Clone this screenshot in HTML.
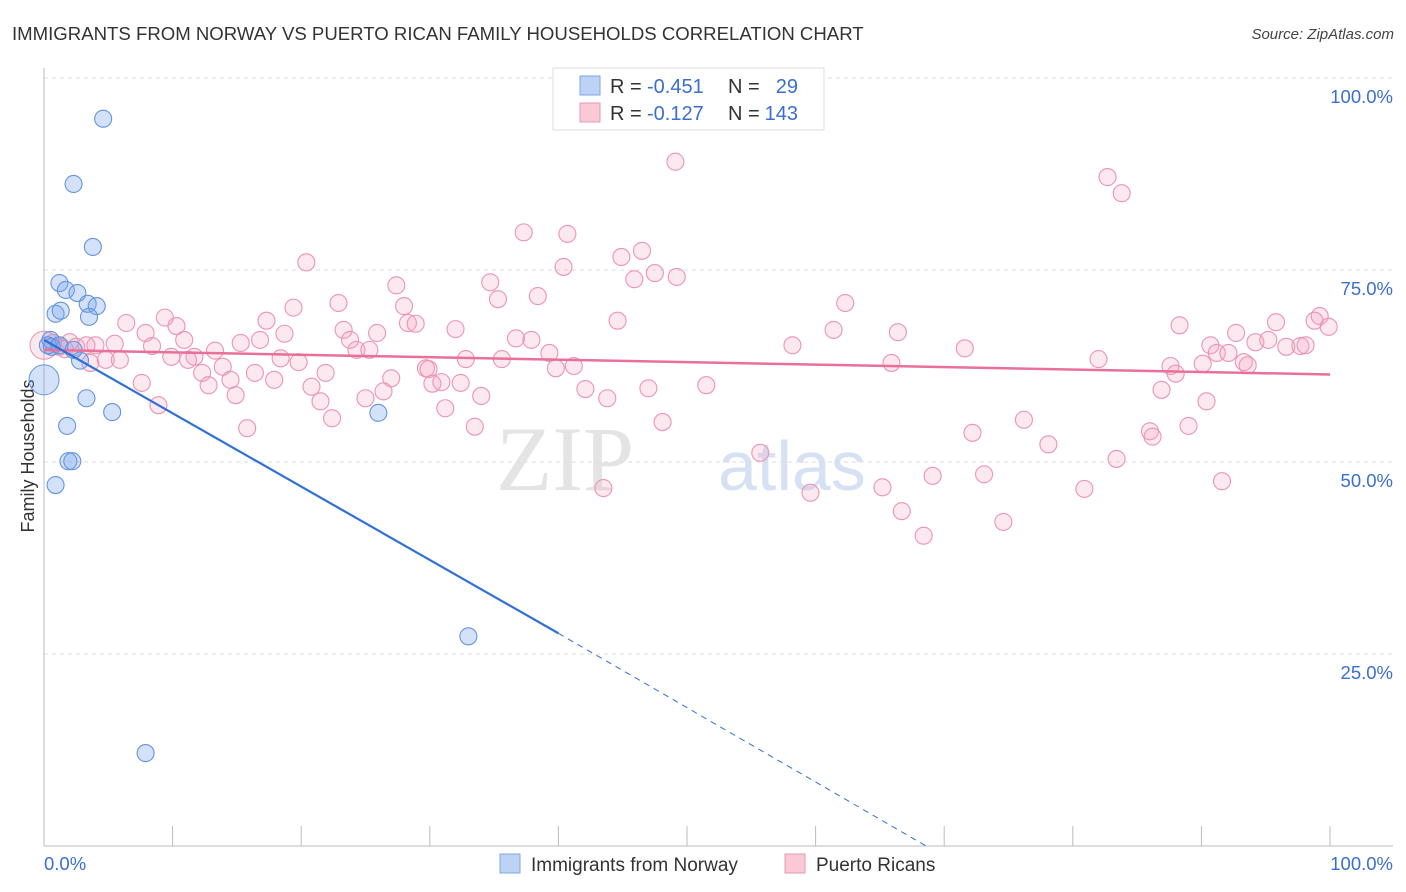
<!DOCTYPE html>
<html><head><meta charset="utf-8">
<style>
body{margin:0;background:#fff;font-family:"Liberation Sans",sans-serif;}
#wrap{position:relative;width:1406px;height:892px;overflow:hidden;}
</style></head>
<body><div id="wrap">
<svg id="chart" width="1406" height="892" font-family="Liberation Sans, sans-serif">
<text x="12" y="40" font-size="18.6" fill="#333">IMMIGRANTS FROM NORWAY VS PUERTO RICAN FAMILY HOUSEHOLDS CORRELATION CHART</text>
<text x="1394" y="39" font-size="15" fill="#444" text-anchor="end" font-style="italic">Source: ZipAtlas.com</text>
<text x="34" y="456" font-size="18" fill="#333" text-anchor="middle" transform="rotate(-90 34 456)">Family Households</text>
<text x="634" y="490" font-size="92" fill="#e4e4e4" font-family="Liberation Serif, serif" text-anchor="end">ZIP</text>
<text x="718" y="490" font-size="70" fill="#d6e2f3">atlas</text>
<g id="grid"></g><g id="axes"></g><g id="pts"></g><g id="trends"></g>
<g>
<rect x="553" y="68" width="271" height="62" fill="#fff" stroke="#ddd"/>
<rect x="580" y="76" width="20" height="19" fill="#bcd3f5" stroke="#7fa7e3"/>
<rect x="580" y="103" width="20" height="19" fill="#f9c9d6" stroke="#e897b0"/>
<text x="610" y="93" font-size="20" fill="#333">R =</text>
<text x="647" y="93" font-size="20" fill="#3a6fd0">-0.451</text>
<text x="728" y="93" font-size="20" fill="#333">N =</text>
<text x="798" y="93" font-size="20" fill="#3a6fd0" text-anchor="end">29</text>
<text x="610" y="120" font-size="20" fill="#333">R =</text>
<text x="647" y="120" font-size="20" fill="#3a6fd0">-0.127</text>
<text x="728" y="120" font-size="20" fill="#333">N =</text>
<text x="798" y="120" font-size="20" fill="#3a6fd0" text-anchor="end">143</text>
</g>
<g>
<rect x="500" y="854" width="20" height="19" fill="#bcd3f5" stroke="#7fa7e3"/>
<text x="531" y="871" font-size="19" fill="#333">Immigrants from Norway</text>
<rect x="785" y="854" width="20" height="19" fill="#f9c9d6" stroke="#e897b0"/>
<text x="816" y="871" font-size="19" fill="#333">Puerto Ricans</text>
</g>
</svg></div>
<script>
const yTicks=[25,50,75,100];
const yTickLabels=["25.0%","50.0%","75.0%","100.0%"];
const xTicks=[0,10,20,30,40,50,60,70,80,90,100];
const blueX=[4.6,2.3,3.8,1.2,1.7,2.6,3.4,4.1,3.5,0.9,1.3,0.5,0.6,2.8,3.3,5.3,1.8,1.9,2.2,0.9,26.0,33.0,7.9,0.3,1.2,2.3];
const blueY=[94.7,86.2,78.0,73.3,72.4,72.0,70.6,70.3,68.9,69.3,69.7,65.9,65.0,63.2,58.3,56.5,54.7,50.1,50.1,47.0,56.4,27.3,12.1,65.2,65.2,64.6];
const pinkX=[49.1,82.7,83.8,37.3,40.7,46.5,44.9,20.4,40.4,47.5,49.2,45.9,34.7,27.4,38.4,35.3,22.9,62.3,19.4,28.0,9.4,6.4,17.3,44.6,28.3,28.9,88.3,99.2,98.8,99.9,95.8,10.3,32.0,23.3,61.4,66.4,92.7,7.9,18.7,25.9,16.8,10.9,36.7,37.9,23.8,15.3,8.4,5.5,4.0,3.3,58.2,90.7,94.2,95.2,96.6,97.7,98.1,24.3,25.3,71.6,13.3,39.3,91.2,92.1,9.9,11.7,11.2,18.4,32.8,35.6,82.0,4.8,5.9,19.8,65.9,13.9,39.8,41.2,87.6,90.1,93.3,93.6,29.7,29.9,12.3,16.4,21.9,88.0,14.5,17.9,27.0,7.6,12.8,30.2,30.9,32.4,20.8,47.0,51.5,42.1,26.4,86.9,14.9,34.0,21.5,43.8,25.0,90.4,8.9,31.2,22.4,48.1,76.2,33.5,15.8,89.0,72.2,86.0,86.2,78.1,55.7,83.4,69.1,73.1,91.6,65.2,43.5,80.9,59.6,66.7,74.6,68.4,0.7,1.2,2.0,1.6,2.5,3.6];
const pinkY=[89.1,87.1,85.0,79.9,79.7,77.5,76.7,76.0,75.4,74.6,74.1,73.8,73.4,73.0,71.6,71.2,70.7,70.7,70.1,70.3,68.8,68.1,68.4,68.4,68.1,68.0,67.8,69.0,68.4,67.6,68.2,67.7,67.3,67.2,67.2,66.9,66.8,66.8,66.7,66.8,65.9,65.9,66.1,65.9,65.9,65.5,65.1,65.4,65.2,65.2,65.2,65.2,65.6,65.9,65.0,65.1,65.2,64.6,64.6,64.8,64.5,64.2,64.2,64.2,63.7,63.7,63.3,63.5,63.4,63.4,63.4,63.3,63.3,63.0,62.9,62.4,62.2,62.5,62.5,62.8,63.0,62.6,62.2,62.1,61.6,61.6,61.6,61.5,60.7,60.7,60.9,60.3,60.0,60.2,60.4,60.3,59.8,59.6,60.0,59.5,59.2,59.4,58.7,58.6,57.9,58.3,58.3,57.9,57.4,57.0,55.7,55.2,55.5,54.6,54.4,54.7,53.8,54.0,53.3,52.3,51.2,50.4,48.2,48.4,47.5,46.7,46.6,46.5,46.0,43.6,42.2,40.4,65.5,65.0,65.6,64.7,65.0,62.9];
const blueTrendX=[0,40,68.6];
const blueTrendY=[65.9,27.7,0];
const pinkTrendX=[0,100];
const pinkTrendY=[64.6,61.4];

const X0=44,X1=1330,Y0=846,Y100=78;
const sx=v=>X0+(X1-X0)*v/100;
const sy=v=>Y0-(Y0-Y100)*v/100;
const NS="http://www.w3.org/2000/svg";
function mk(tag,attrs,parent){const e=document.createElementNS(NS,tag);for(const k in attrs)e.setAttribute(k,attrs[k]);document.getElementById(parent).appendChild(e);return e;}

yTicks.forEach((t,i)=>{
  const l=mk('line',{x1:X0,x2:1393,y1:sy(t),y2:sy(t),stroke:'#dcdcdc','stroke-dasharray':'4,4'},'grid');
  
  
  const tx=mk('text',{x:1393,y:sy(t)+25,'font-size':18.5,fill:'#3a6fd0','text-anchor':'end'},'grid');
  tx.textContent=yTickLabels[i];
  
  
});
const ax=mk('line',{x1:X0,x2:X0,y1:68,y2:Y0,stroke:'#bbb'},'axes');


const bx=mk('line',{x1:X0,x2:1393,y1:Y0,y2:Y0,stroke:'#bbb'},'axes');


xTicks.forEach(t=>{
  const l=mk('line',{x1:sx(t),x2:sx(t),y1:Y0,y2:826,stroke:'#bbb'},'axes');
  
  
});
const xl=mk('text',{x:44,y:870,'font-size':18.5,fill:'#3a6fd0'},'axes');xl.textContent='0.0%';


const xr=mk('text',{x:1393,y:870,'font-size':18.5,fill:'#3a6fd0','text-anchor':'end'},'axes');xr.textContent='100.0%';



pinkX.forEach((x,i)=>{
  const c=mk('circle',{cx:sx(x),cy:sy(pinkY[i]),r:8.5,fill:'rgba(244,165,190,0.25)',stroke:'#ec94b1','stroke-width':1.1},'pts');
  
  
});
const bp=mk('circle',{cx:sx(0),cy:sy(65.2),r:14,fill:'rgba(244,165,190,0.25)',stroke:'#ec94b1'},'pts');


blueX.forEach((x,i)=>{
  const c=mk('circle',{cx:sx(x),cy:sy(blueY[i]),r:8.5,fill:'rgba(120,165,235,0.32)',stroke:'#6594de','stroke-width':1.1},'pts');
  
  
});
const bb=mk('circle',{cx:sx(0),cy:sy(60.7),r:15,fill:'rgba(120,165,235,0.32)',stroke:'#6594de'},'pts');



const pt=mk('line',{x1:sx(pinkTrendX[0]),y1:sy(pinkTrendY[0]),x2:sx(pinkTrendX[1]),y2:sy(pinkTrendY[1]),stroke:'#e8709a','stroke-width':2.5},'trends');


const bt=mk('line',{x1:sx(blueTrendX[0]),y1:sy(blueTrendY[0]),x2:sx(blueTrendX[1]),y2:sy(blueTrendY[1]),stroke:'#2f6fd8','stroke-width':2.2},'trends');


const bd=mk('line',{x1:sx(blueTrendX[1]),y1:sy(blueTrendY[1]),x2:sx(blueTrendX[2]),y2:sy(blueTrendY[2]),stroke:'#2f6fd8','stroke-width':1,'stroke-dasharray':'6,5'},'trends');


</script>
</body></html>
